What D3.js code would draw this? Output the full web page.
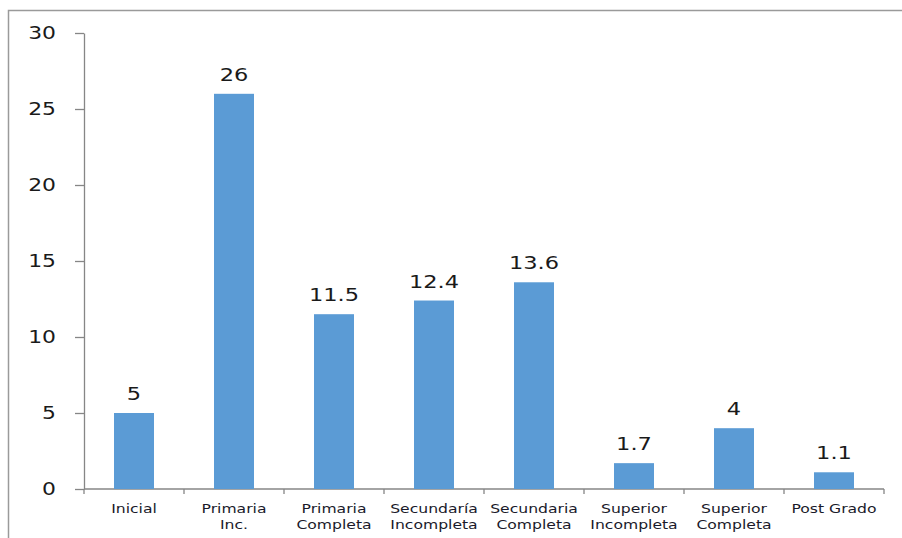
<!DOCTYPE html>
<html>
<head>
<meta charset="utf-8">
<script src="https://cdn.jsdelivr.net/npm/d3@7"></script>
<style>
  body { margin: 0; background: #fff; }
  #chart { width: 902px; height: 538px; }
</style>
</head>
<body>
<div id="chart"></div>
<script>
// chart data
const categories = [
  ["Inicial"],
  ["Primaria", "Inc."],
  ["Primaria", "Completa"],
  ["Secundaría", "Incompleta"],
  ["Secundaria", "Completa"],
  ["Superior", "Incompleta"],
  ["Superior", "Completa"],
  ["Post Grado"]
];
const values = [5, 26, 11.5, 12.4, 13.6, 1.7, 4, 1.1];
const valueLabels = ["5", "26", "11.5", "12.4", "13.6", "1.7", "4", "1.1"];
const yTicks = [0, 5, 10, 15, 20, 25, 30];

const width = 902;
const height = 538;
const margin = { left: 84, right: 18, top: 33, bottom: 49 };
//text in the reference is stretched sideways
const stretch = 1.25;

const svg = d3.select("#chart")
  .append("svg")
  .attr("width", width)
  .attr("height", height);

//outer frame
svg.append("rect")
  .attr("x", 8.5)
  .attr("y", 10.5)
  .attr("width", width)
  .attr("height", height)
  .attr("fill", "none")
  .attr("stroke", "#9a9a9a")
  .attr("stroke-width", 1.5);

const xScale = d3.scaleBand()
  .domain(d3.range(categories.length))
  .range([margin.left, width - margin.right])
  .paddingInner(0.6)
  .paddingOuter(0.3);

//band edges for the tick marks under the axis
const step = xScale.step();
const x0 = margin.left;

const yScale = d3.scaleLinear()
  .domain([0, 30])
  .range([height - margin.bottom, margin.top]);

//y-Axis
const yAxis = svg.append("g")
  .attr("transform", `translate(${margin.left}, 0)`)
  .call(d3.axisLeft(yScale).tickValues(yTicks).tickSize(9).tickSizeOuter(0));
yAxis.select(".domain").attr("stroke", "#868686").attr("stroke-width", 1.3);
yAxis.selectAll(".tick line").attr("stroke", "#868686").attr("stroke-width", 1.3);
yAxis.selectAll(".tick text")
  .attr("x", null)
  .attr("dy", null)
  .attr("fill", "#1a1a1a")
  .attr("font-family", "DejaVu Sans")
  .attr("font-size", 17.5)
  .attr("text-anchor", "end")
  .attr("dominant-baseline", "middle")
  .attr("transform", `translate(-28, 1) scale(${stretch}, 1)`);

//x-Axis line and ticks at category boundaries
const xAxisY = yScale(0);
svg.append("line")
  .attr("x1", x0)
  .attr("x2", x0 + step * categories.length)
  .attr("y1", xAxisY)
  .attr("y2", xAxisY)
  .attr("stroke", "#868686")
  .attr("stroke-width", 1.3);
svg.append("g")
  .selectAll("line")
  .data(d3.range(categories.length + 1))
  .enter()
  .append("line")
    .attr("x1", (d) => x0 + d * step)
    .attr("x2", (d) => x0 + d * step)
    .attr("y1", xAxisY)
    .attr("y2", xAxisY + 5)
    .attr("stroke", "#868686")
    .attr("stroke-width", 1.3);

//category labels
const catGroup = svg.append("g")
  .selectAll("text")
  .data(categories)
  .enter()
  .append("text")
    .attr("transform", (d, i) =>
      `translate(${xScale(i) + xScale.bandwidth() / 2}, ${xAxisY + 24}) scale(${stretch}, 1)`)
    .attr("text-anchor", "middle")
    .attr("font-family", "DejaVu Sans")
    .attr("font-size", 12.5)
    .attr("fill", "#1a1a2a");
catGroup.selectAll("tspan")
  .data((d) => d)
  .enter()
  .append("tspan")
    .attr("x", 0)
    .attr("dy", (d, i) => (i === 0 ? 0 : 16.5))
    .text((d) => d);

//bars
svg.append("g")
  .selectAll("rect")
  .data(values)
  .enter()
  .append("rect")
    .attr("x", (d, i) => xScale(i))
    .attr("width", xScale.bandwidth())
    .attr("y", (d) => yScale(d))
    .attr("height", (d) => yScale(0) - yScale(d))
    .attr("fill", "#5b9bd5");

//value labels above bars
svg.append("g")
  .selectAll("text")
  .data(values)
  .enter()
  .append("text")
    .attr("transform", (d, i) =>
      `translate(${xScale(i) + xScale.bandwidth() / 2}, ${yScale(d) - 13}) scale(${stretch}, 1)`)
    .attr("text-anchor", "middle")
    .attr("font-family", "DejaVu Sans")
    .attr("font-size", 18)
    .attr("fill", "#1a1a1a")
    .text((d, i) => valueLabels[i]);
</script>
</body>
</html>
